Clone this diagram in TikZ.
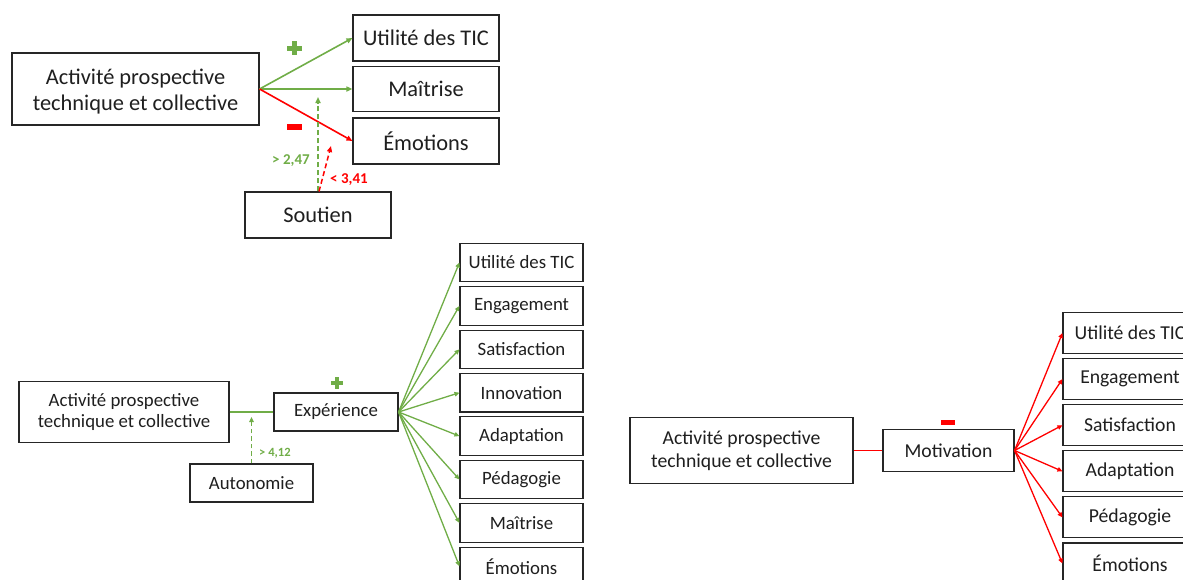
\documentclass[tikz,border=0pt]{standalone}
\usepackage{fontspec}
\setmainfont{Carlito}
\usetikzlibrary{arrows.meta}
\definecolor{pgreen}{HTML}{70AD47}
\definecolor{pred}{HTML}{FF0000}
\begin{document}
\begin{tikzpicture}[x=1pt,y=-1pt,
  box/.style={draw=black!85, line width=1.1pt, fill=white, inner sep=0pt, align=center, text=black!88},
  bigtxt/.style={font=\fontsize{22.4}{26}\selectfont},
  midtxt/.style={font=\fontsize{18.8}{21.5}\selectfont},
  rtxt/.style={font=\fontsize{19.7}{23}\selectfont},
  tipA/.style={-{Triangle[length=6pt,width=5pt]}},
  tipB/.style={-{Triangle[length=5pt,width=4.5pt]}},
  garrow/.style={draw=pgreen, line width=1.6pt, tipA},
  rarrow/.style={draw=pred, line width=1.6pt, tipA},
  garrowb/.style={draw=pgreen, line width=1.3pt, tipB},
  rarrowb/.style={draw=pred, line width=1.3pt, tipB},
  gdash/.style={draw=pgreen, line width=1.5pt, dash pattern=on 5pt off 3pt},
  rdash/.style={draw=pred, line width=1.5pt, dash pattern=on 5pt off 3pt},
  glab/.style={text=pgreen, font=\fontsize{15}{16}\selectfont\bfseries, inner sep=0pt},
  rlab/.style={text=pred, font=\fontsize{15}{16}\selectfont\bfseries, inner sep=0pt},
  glabs/.style={text=pgreen, font=\fontsize{12.6}{14}\selectfont\bfseries, inner sep=0pt}
]
\useasboundingbox (0,0) rectangle (1183,579);
\clip (0,0) rectangle (1183,579);

% ===== Top diagram =====
\node[box, bigtxt, minimum width=247, minimum height=72] (A1) at (135.5,89) {\rule{0pt}{20pt}Activité prospective\\technique et collective};
\node[box, bigtxt, minimum width=146, minimum height=46] (tU) at (426,38) {Utilité des TIC};
\node[box, bigtxt, minimum width=146, minimum height=45] (tM) at (426,89) {Maîtrise};
\node[box, bigtxt, minimum width=146, minimum height=46] (tE) at (426,141) {Émotions};
\node[box, bigtxt, minimum width=146, minimum height=46] (tS) at (318,215) {Soutien};

\draw[garrow] (A1.east) -- (tU.west);
\draw[garrow] (A1.east) -- (tM.west);
\draw[rarrow] (A1.east) -- (tE.west);

\coordinate (c1) at (318,97);
\coordinate (c2) at (331,146);
\draw[gdash, tipA] (tS.north) -- (c1);
\draw[rdash, tipA] ([xshift=1pt]tS.north) -- (c2);
\node[glab] (l1) at (291,161) {> 2,47};
\node[rlab] (l2) at (349,180) {< 3,41};

\fill[pgreen] (287,45.5) rectangle (302,50.5);
\fill[pgreen] (292,41) rectangle (297,55);
\fill[pred] (287,123.5) rectangle (302,129.5);

% ===== Bottom-middle diagram =====
\node[box, midtxt, minimum width=210, minimum height=61] (A2) at (124,412) {Activité prospective\\technique et collective};
\node[box, midtxt, minimum width=124, minimum height=38] (X) at (336,412) {Expérience};
\node[box, midtxt, minimum width=123, minimum height=38] (Au) at (251.5,483) {Autonomie};
\draw[draw=pgreen, line width=1.3pt] (A2.east) -- (X.west);
\coordinate (c3) at (251.5,417);
\draw[gdash, line width=1.4pt, dash pattern=on 4.5pt off 3pt, tipB] (Au.north) -- (c3);
\node[glabs, anchor=west] (l3) at (259,453) {> 4,12};
\fill[pgreen] (330.5,381) rectangle (342.5,385);
\fill[pgreen] (334.5,377) rectangle (338.5,389);

\foreach \n/\t [count=\i from 0] in {m1/Utilité des TIC, m2/Engagement, m3/Satisfaction, m4/Innovation, m5/Adaptation, m6/Pédagogie, m7/Maîtrise, m8/Émotions}{
  \node[box, midtxt, minimum width=123, minimum height=38.5] (\n) at (521.5,262.5+43.4*\i) {\t};
  \draw[garrowb] (X.east) -- (\n.west);
}

% ===== Bottom-right diagram =====
\node[box, rtxt, minimum width=223, minimum height=66] (A3) at (741.5,450.5) {Activité prospective\\technique et collective};
\node[box, rtxt, minimum width=131, minimum height=42] (Mo) at (948.5,450.5) {Motivation};
\draw[draw=pred, line width=1.3pt] (A3.east) -- (Mo.west);
\fill[pred] (941,420) rectangle (955,425);

\foreach \n/\t [count=\i from 0] in {r1/Utilité des TIC, r2/Engagement, r3/Satisfaction, r4/Adaptation, r5/Pédagogie, r6/Émotions}{
  \node[box, rtxt, minimum width=134, minimum height=41] (\n) at (1130,333+46.1*\i) {\t};
  \draw[rarrowb] (Mo.east) -- (\n.west);
}
\end{tikzpicture}
\end{document}
